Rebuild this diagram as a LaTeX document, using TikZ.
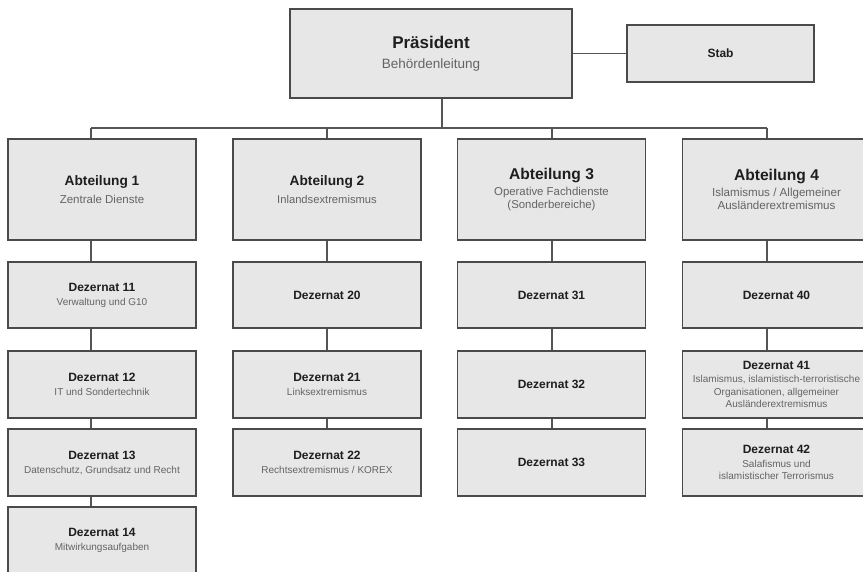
\documentclass[tikz,border=0pt]{standalone}
\usepackage{fontspec}
\setmainfont{Liberation Sans}
\usetikzlibrary{calc}

\definecolor{boxfill}{HTML}{E7E7E7}
\definecolor{boxline}{HTML}{4A4A4A}
\definecolor{linkgray}{HTML}{555555}
\definecolor{titlegray}{HTML}{1E1E1E}
\definecolor{descgray}{HTML}{646464}

\newcommand{\unitname}[2][12]{{\fontsize{#1}{#1}\selectfont\bfseries #2}}
\newcommand{\unitdesc}[2][10]{{\fontsize{#1}{#1}\selectfont\color{descgray}#2}}

\begin{document}
\begin{tikzpicture}
      [x=1pt,y=-1pt
      ,box/.style={draw=boxline,fill=boxfill,line width=1.6pt,align=center,inner sep=0pt,text=titlegray}
      ,abt/.style={box,minimum width=188pt,minimum height=101pt,font=\fontsize{11}{13}\selectfont}
      ,dez/.style={box,minimum width=188pt,minimum height=67pt,font=\fontsize{10}{12.5}\selectfont}
      ,link/.style={draw=linkgray,line width=1.6pt}
      ]
        \fill[white] (0,0) rectangle (863,571);
        \useasboundingbox (0,0) rectangle (863,571);
        \clip (0,0) rectangle (863,571);

        % leitung
        \node[box,minimum width=282pt,minimum height=89pt,font=\fontsize{13}{19}\selectfont] (pres) at (431,53.5)
          {\unitname[17]{Präsident}\\[1pt]\unitdesc[13.5]{Behördenleitung}};
        \node[box,minimum width=187pt,minimum height=57pt] (stab) at (720.5,53.5) {\unitname{Stab}};

        % abteilungen
        \node[abt] (a1) at (102,189.5) {\unitname[13.7]{Abteilung 1}\\[4.5pt]\unitdesc[11.5]{Zentrale Dienste}};
        \node[abt] (a2) at (327,189.5) {\unitname[13.7]{Abteilung 2}\\[4.5pt]\unitdesc[11.2]{Inlandsextremismus}};
        \node[abt] (a3) at (551.5,189.5) {\unitname[15.6]{Abteilung 3}\\[3pt]\unitdesc[11.4]{Operative Fachdienste}\\\unitdesc[11.4]{(Sonderbereiche)}};
        \node[abt] (a4) at (776.5,189.5) {\unitname[15.6]{Abteilung 4}\\[3pt]\unitdesc[11.6]{Islamismus / Allgemeiner}\\\unitdesc[11.6]{Ausländerextremismus}};

        % dezernate
        \node[dez,minimum height=66pt] (d11) at (102,295) {\unitname{Dezernat 11}\\[1.5pt]\unitdesc{Verwaltung und G10}};
        \node[dez] (d12) at (102,384.5) {\unitname{Dezernat 12}\\[1.5pt]\unitdesc{IT und Sondertechnik}};
        \node[dez] (d13) at (102,462.5) {\unitname{Dezernat 13}\\[1.5pt]\unitdesc{Datenschutz, Grundsatz und Recht}};
        \node[dez] (d14) at (102,540.5) {\unitname{Dezernat 14}\\[1.5pt]\unitdesc{Mitwirkungsaufgaben}};

        \node[dez,minimum height=66pt] (d20) at (327,295) {\unitname{Dezernat 20}};
        \node[dez] (d21) at (327,384.5) {\unitname{Dezernat 21}\\[1.5pt]\unitdesc{Linksextremismus}};
        \node[dez] (d22) at (327,462.5) {\unitname{Dezernat 22}\\[1.5pt]\unitdesc{Rechtsextremismus / KOREX}};

        \node[dez,minimum height=66pt] (d31) at (551.5,295) {\unitname{Dezernat 31}};
        \node[dez] (d32) at (551.5,384.5) {\unitname{Dezernat 32}};
        \node[dez] (d33) at (551.5,462.5) {\unitname{Dezernat 33}};

        \node[dez,minimum height=66pt] (d40) at (776.5,295) {\unitname{Dezernat 40}};
        \node[dez] (d41) at (776.5,384.5) {\unitname{Dezernat 41}\\[0.5pt]\unitdesc{Islamismus, islamistisch-terroristische}\\\unitdesc{Organisationen, allgemeiner}\\\unitdesc{Ausländerextremismus}};
        \node[dez] (d42) at (776.5,462.5) {\unitname{Dezernat 42}\\[1pt]\unitdesc{Salafismus und}\\\unitdesc{islamistischer Terrorismus}};

        % verbindungen
        \coordinate (bus0) at (442,128);
        \coordinate (t1) at (91,128);
        \coordinate (t2) at (327,128);
        \coordinate (t3) at (552,128);
        \coordinate (t4) at (767,128);
        \draw[link] (pres.east) -- (stab.west);
        \draw[link] (bus0 |- pres.south) -- (bus0);
        \draw[link] (t1) -- (t4);
        \foreach \t/\a in {t1/a1,t2/a2,t3/a3,t4/a4}{
          \draw[link] (\t) -- (\t |- \a.north);
        }
        \foreach \t/\u/\l in {t1/a1/d11,t1/d11/d12,t1/d12/d13,t1/d13/d14,%
                              t2/a2/d20,t2/d20/d21,t2/d21/d22,%
                              t3/a3/d31,t3/d31/d32,t3/d32/d33,%
                              t4/a4/d40,t4/d40/d41,t4/d41/d42}{
          \draw[link] (\t |- \u.south) -- (\t |- \l.north);
        }
      \end{tikzpicture}
\end{document}
